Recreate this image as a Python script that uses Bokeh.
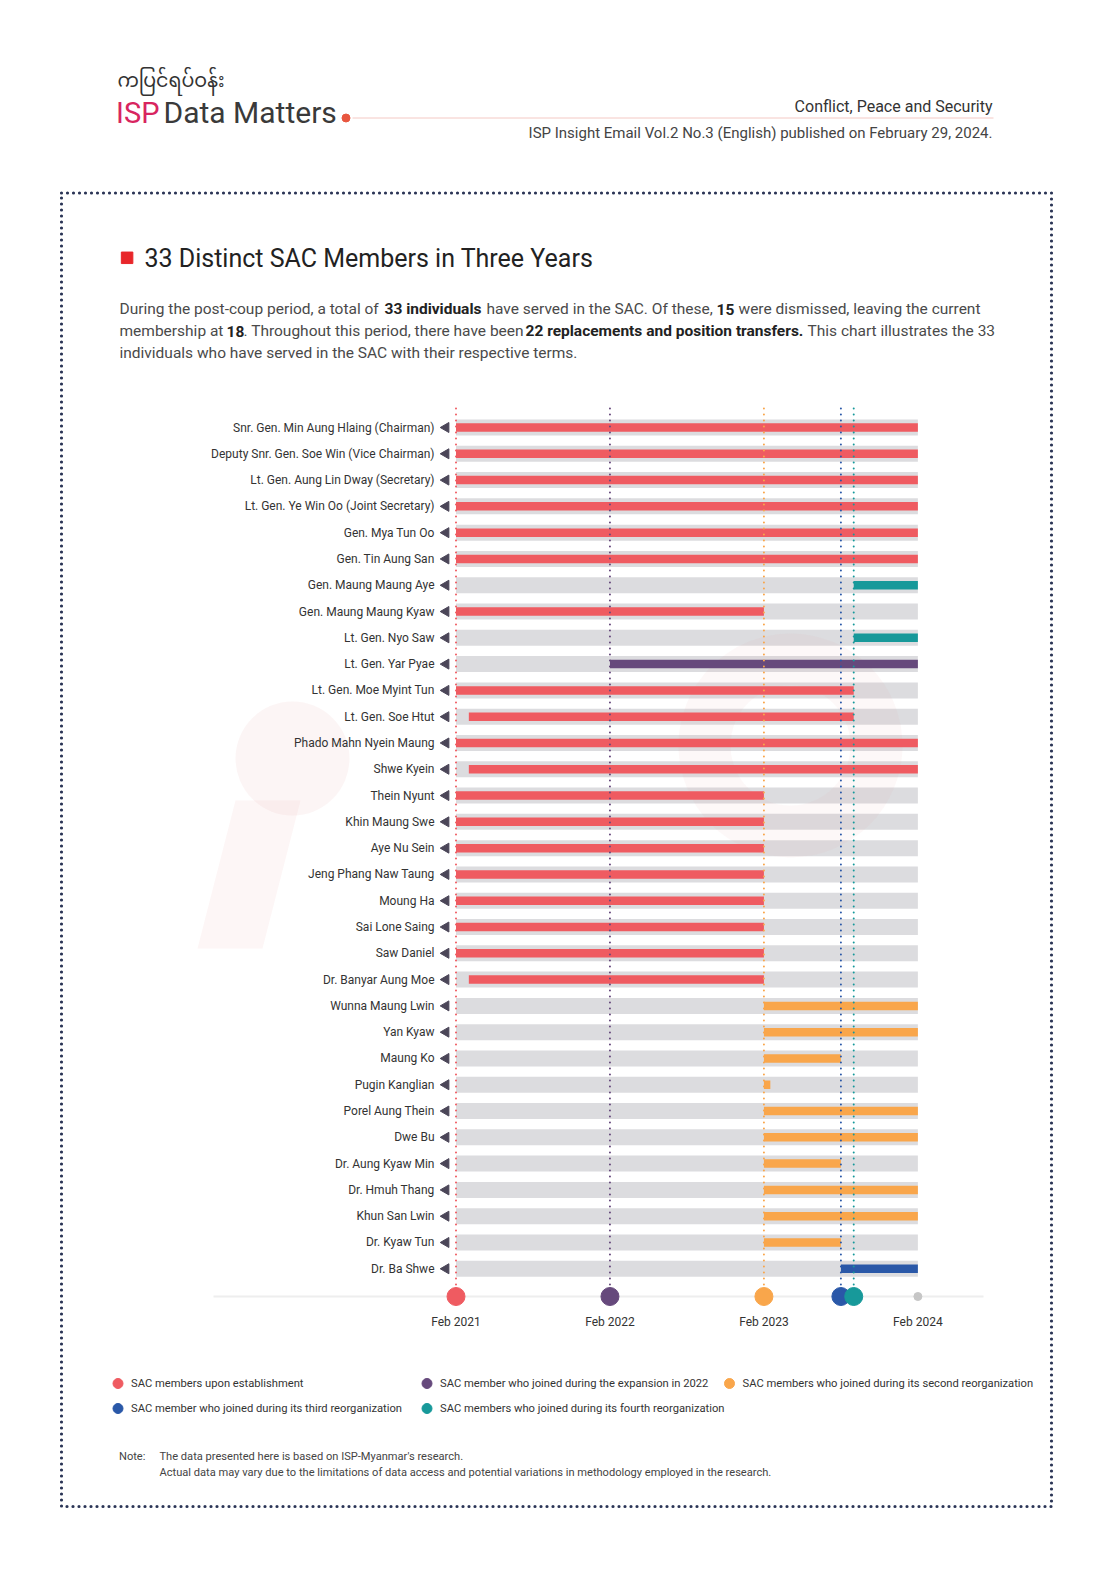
import numpy as np
from bokeh.plotting import figure
from bokeh.models import Range1d
from bokeh.core.properties import value
from bokeh.embed import file_html
from bokeh.resources import INLINE

# ---------------- data ----------------
members = [
    "Snr. Gen. Min Aung Hlaing (Chairman)",
    "Deputy Snr. Gen. Soe Win (Vice Chairman)",
    "Lt. Gen. Aung Lin Dway (Secretary)",
    "Lt. Gen. Ye Win Oo (Joint Secretary)",
    "Gen. Mya Tun Oo",
    "Gen. Tin Aung San",
    "Gen. Maung Maung Aye",
    "Gen. Maung Maung Kyaw",
    "Lt. Gen. Nyo Saw",
    "Lt. Gen. Yar Pyae",
    "Lt. Gen. Moe Myint Tun",
    "Lt. Gen. Soe Htut",
    "Phado Mahn Nyein Maung",
    "Shwe Kyein",
    "Thein Nyunt",
    "Khin Maung Swe",
    "Aye Nu Sein",
    "Jeng Phang Naw Taung",
    "Moung Ha",
    "Sai Lone Saing",
    "Saw Daniel",
    "Dr. Banyar Aung Moe",
    "Wunna Maung Lwin",
    "Yan Kyaw",
    "Maung Ko",
    "Pugin Kanglian",
    "Porel Aung Thein",
    "Dwe Bu",
    "Dr. Aung Kyaw Min",
    "Dr. Hmuh Thang",
    "Khun San Lwin",
    "Dr. Kyaw Tun",
    "Dr. Ba Shwe",
]
# months since Feb 2021
start_month = [0, 0, 0, 0, 0, 0, 31, 0, 31, 12, 0, 1, 0, 1, 0, 0, 0, 0, 0, 0, 0, 1,
               24, 24, 24, 24, 24, 24, 24, 24, 24, 24, 30]
end_month = [36, 36, 36, 36, 36, 36, 36, 24, 36, 36, 31, 31, 36, 36, 24, 24, 24, 24, 24, 24, 24, 24,
             36, 36, 30, 24.5, 36, 36, 30, 36, 36, 30, 36]
group = [0, 0, 0, 0, 0, 0, 4, 0, 4, 1, 0, 0, 0, 0, 0, 0, 0, 0, 0, 0, 0, 0,
         2, 2, 2, 2, 2, 2, 2, 2, 2, 2, 3]

group_names = [
    "SAC members upon establishment",
    "SAC member who joined during the expansion in 2022",
    "SAC members who joined during its second reorganization",
    "SAC member who joined during its third reorganization",
    "SAC members who joined during its fourth reorganization",
]
group_colors = ["#ef5b61", "#66497c", "#f9a64b", "#2a58a8", "#17999a"]

event_months = [0, 12, 24, 30, 31]
period_end = 36
tick_months = [0, 12, 24, 36]
tick_labels = ["Feb 2021", "Feb 2022", "Feb 2023", "Feb 2024"]

# ---------------- layout ----------------
W, H = 1094, 1570
X0, PXM = 455.5, 12.83      # pixel of Feb 2021, pixels per month
Y0, PXR = 427.0, 26.29      # pixel of first row, pixels per row
FONT = "Roboto"

p = figure(width=W, height=H, x_range=Range1d(0, W), y_range=Range1d(H, 0),
           output_backend="svg", toolbar_location=None, min_border=0)
p.axis.visible = False
p.grid.visible = False
p.outline_line_color = None
p.background_fill_color = "white"
p.border_fill_color = "white"
p.extra_x_ranges = {"m": Range1d((0 - X0) / PXM, (W - X0) / PXM)}
p.extra_y_ranges = {"r": Range1d((H - Y0) / PXR, (0 - Y0) / PXR)}

def txt(x, y, t, size, color="#333333", align="left", baseline="middle", style="normal", **kw):
    p.text(x=[x], y=[y], text=[t], text_font=value(FONT), text_font_size=f"{size}px",
           text_color=color, text_align=align, text_baseline=baseline, text_font_style=style, **kw)

# ---------------- header ----------------
p.text(x=[117], y=[82], text=["ကပြင်ရပ်ဝန်း"], text_font=value("Noto Sans Myanmar, Padauk, Myanmar Text, Noto Sans"),
       text_font_size="19px", text_color="#333333", text_baseline="middle")
txt(159, 112, "ISP", 29, color="#d8255f", align="right")
txt(163, 112, "Data Matters", 30, color="#3a3a3a")
p.segment(x0=[352], y0=[117.5], x1=[993], y1=[117.5], line_color="#f4c9c4", line_width=1)
p.scatter(x=[345.5], y=[117.5], size=8, color="#e8563f")
txt(992, 105.5, "Conflict, Peace and Security", 16, color="#333333", align="right")
txt(992, 132.7, "ISP Insight Email Vol.2 No.3 (English) published on February 29, 2024.", 15,
    color="#444444", align="right")

# ---------------- dotted border ----------------
p.line(x=[61, 1051, 1051, 61, 61], y=[192.5, 192.5, 1506, 1506, 192.5], line_color="#2b3556",
       line_width=3.2, line_dash="0 6", line_cap="round")

# ---------------- title & text ----------------
p.scatter(x=[126.6], y=[257.3], marker="square", size=11.5, color="#e8262a")
txt(144, 258, "33 Distinct SAC Members in Three Years", 25, color="#222222")

para = [
    ("During the post-coup period, a total of", 119, 308.5, False),
    ("33 individuals", 384, 308.5, True),
    ("have served in the SAC. Of these,", 486, 308.5, False),
    ("15", 716, 308.5, True),
    ("were dismissed, leaving the current", 738, 308.5, False),
    ("membership at", 119, 330.5, False),
    ("18", 226, 330.5, True),
    (". Throughout this period, there have been", 243, 330.5, False),
    ("22 replacements and position transfers.", 525, 330.5, True),
    ("This chart illustrates the 33", 807, 330.5, False),
    ("individuals who have served in the SAC with their respective terms.", 119, 352.5, False),
]
for t, x, y, b in para:
    txt(x, y, t, 15.5, color="#222222" if b else "#4a4a4a", style="bold" if b else "normal")

# ---------------- chart ----------------
rows = list(range(len(members)))
bar_colors = [group_colors[g] for g in group]
axis_row = (1296 - Y0) / PXR
top_row = (408 - Y0) / PXR

p.hbar(y=rows, left=0, right=period_end, height=16 / PXR, fill_color="#dcdcdf", line_color=None,
       x_range_name="m", y_range_name="r")

# faint watermark
p.circle(x=[292], y=[758], radius=57, fill_color="#e9a9a9", fill_alpha=0.12, line_color=None)
p.patch(x=[197, 262, 300, 235], y=[948, 948, 800, 800], fill_color="#e9a9a9", fill_alpha=0.10, line_color=None)
p.annulus(x=[790], y=[745], inner_radius=60, outer_radius=112, fill_color="#e9a9a9", fill_alpha=0.08,
          line_color=None)

p.hbar(y=rows, left=start_month, right=end_month, height=8.5 / PXR, fill_color=bar_colors, line_color=None,
       x_range_name="m", y_range_name="r")

# axis base line
p.segment(x0=[213], y0=[1296], x1=[983], y1=[1296], line_color="#eeeeee", line_width=2)

event_colors = group_colors
p.segment(x0=event_months, x1=event_months, y0=top_row, y1=axis_row, line_color=event_colors,
          line_width=2, line_dash="0 6", line_cap="round", x_range_name="m", y_range_name="r")
p.scatter(x=[period_end], y=[axis_row], size=8, color="#c6c6c6", x_range_name="m", y_range_name="r")
p.scatter(x=event_months, y=axis_row, size=18, color=event_colors, x_range_name="m", y_range_name="r")

p.text(x=tick_months, y=1321, text=tick_labels, text_font=value(FONT), text_font_size="12px",
       text_color="#333333", text_align="center", text_baseline="middle", x_range_name="m")

# row labels and triangles
p.scatter(x=445.5, y=rows, marker="triangle", angle=np.pi / 2, size=10, color="#4b4658", y_range_name="r")
p.text(x=434, y=rows, text=members, text_font=value(FONT), text_font_size="12px", text_color="#333333",
       text_align="right", text_baseline="middle", y_range_name="r")

# ---------------- legend ----------------
leg_x = [117.5, 426.5, 729, 117.5, 426.5]
leg_y = [1383, 1383, 1383, 1408, 1408]
p.scatter(x=leg_x, y=leg_y, size=10, color=group_colors)
p.text(x=[x + 13 for x in leg_x], y=leg_y, text=group_names, text_font=value(FONT), text_font_size="11.2px",
       text_color="#333333", text_baseline="middle")

# ---------------- note ----------------
txt(118.5, 1456, "Note:", 11.1, color="#444444")
txt(159, 1456, "The data presented here is based on ISP-Myanmar's research.", 11.1, color="#444444")
txt(159, 1472, "Actual data may vary due to the limitations of data access and potential variations in "
               "methodology employed in the research.", 11.1, color="#444444")

open("out.html", "w").write(file_html(p, INLINE))
